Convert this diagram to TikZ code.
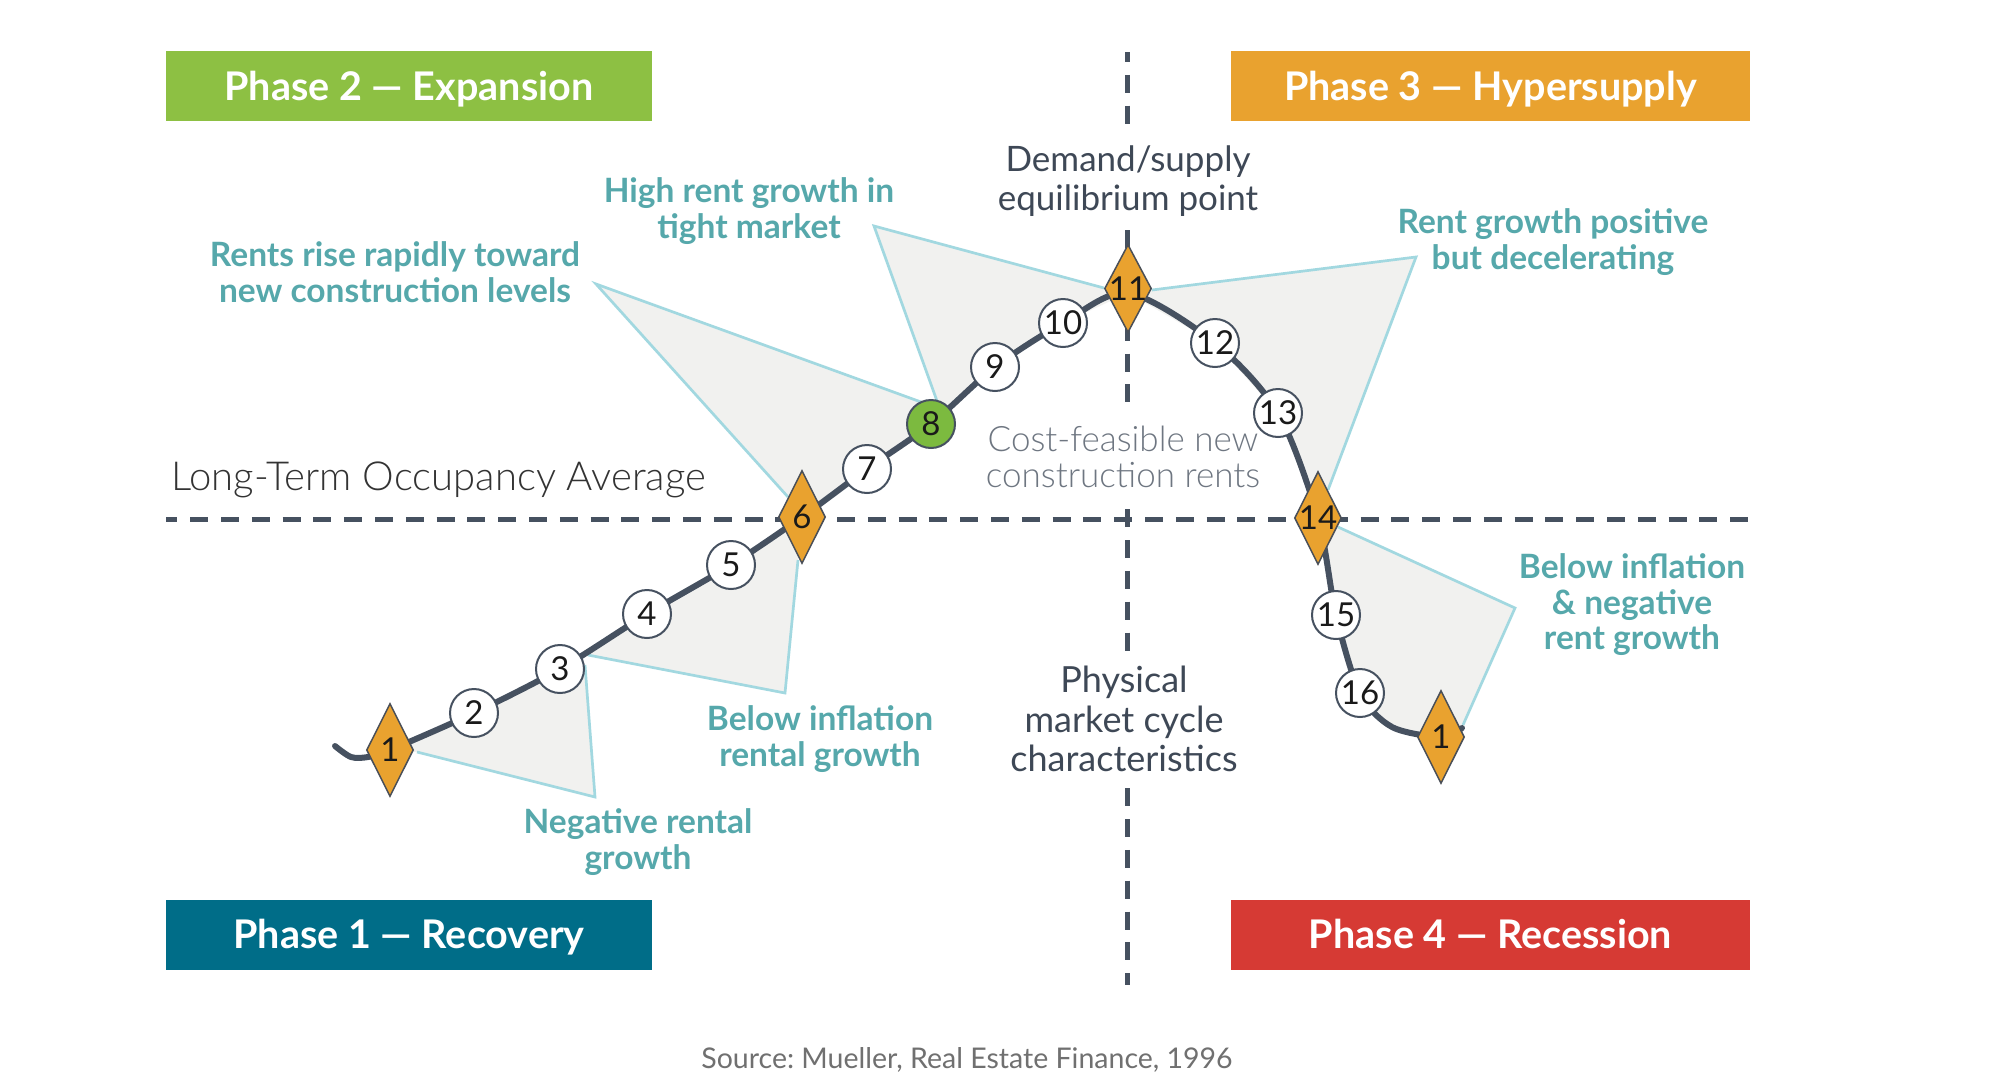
\documentclass[tikz,border=0pt]{standalone}
\usepackage{fontspec}
\setmainfont{Lato}
\IfFontExistsTF{Lato Light}{\newfontfamily\latolight{Lato Light}}{\newfontfamily\latolight{Lato}}
\usetikzlibrary{shapes.geometric}
\definecolor{phgreen}{HTML}{8DC043}
\definecolor{phorange}{HTML}{E9A22F}
\definecolor{phteal}{HTML}{006D88}
\definecolor{phred}{HTML}{D63A34}
\definecolor{tealtxt}{HTML}{56A8AB}
\definecolor{triblue}{HTML}{A2D8E0}
\definecolor{trigray}{HTML}{F1F1EF}
\definecolor{slate}{HTML}{465160}
\definecolor{darktxt}{HTML}{3E4856}
\definecolor{lighttxt}{HTML}{6E7681}
\definecolor{srcgray}{HTML}{707070}
\definecolor{dorange}{HTML}{E9A22F}
\definecolor{diaedge}{HTML}{4A4F57}
\definecolor{numblack}{HTML}{1A1A1A}
\definecolor{ngreen}{HTML}{7CBA3F}
\frenchspacing
\begin{document}
\begin{tikzpicture}[x=1bp,y=-1bp,
  phasebox/.style={rectangle, inner sep=0pt, text=white, minimum width=486bp, minimum height=70bp,
    text height=28bp, text depth=0bp, font=\bfseries\fontsize{39.5bp}{47bp}\selectfont},
  callout/.style={inner sep=0pt, align=center, text=tealtxt, font=\bfseries\fontsize{33.5bp}{35.5bp}\selectfont},
  numtext/.style={inner sep=0pt, text=numblack, font=\fontsize{33bp}{36bp}\selectfont},
  circnode/.style={circle, draw=slate, line width=2bp, fill=white, minimum size=48bp, inner sep=0pt, numtext},
  dianode/.style={diamond, draw=diaedge, line width=1.5bp, fill=dorange, minimum width=47bp, minimum height=93bp,
    inner sep=0pt, label={[numtext]center:#1}},
  trifill/.style={fill=trigray},
  triline/.style={draw=triblue, line width=2.7bp, line join=miter},
  cycleline/.style={draw=slate, line width=6bp, line cap=round},
  dashline/.style={draw=slate, line width=5bp, dash pattern=on 18bp off 12.8bp}
]
\useasboundingbox (0,0) rectangle (1999,1081);
\fill[white] (0,0) rectangle (1999,1081);

% curve points
\coordinate (p1) at (390,750);
\coordinate (p2) at (474,713);
\coordinate (p3) at (560,669);
\coordinate (p4) at (647,614);
\coordinate (p5) at (731,565);
\coordinate (p6) at (802,517);
\coordinate (p7) at (867,469);
\coordinate (p8) at (931,424);
\coordinate (p9) at (995,367);
\coordinate (p10) at (1063,323);
\coordinate (p11) at (1128,293);
\coordinate (p12) at (1215,343);
\coordinate (p13) at (1278,413);
\coordinate (p14) at (1318,518);
\coordinate (p15) at (1336,615);
\coordinate (p16) at (1360,693);
\coordinate (q1) at (1392,727);
\coordinate (p1r) at (1441,737);
\coordinate (d11) at (1128,288.5);

% callout apexes
\coordinate (t1) at (596,284);
\coordinate (t2) at (874,226);
\coordinate (t3) at (1416,257);
\coordinate (t4) at (595,797);
\coordinate (t5) at (785,693);
\coordinate (t6) at (1515,608);

% triangle fills
\fill[trifill] (t1) -- (921,402) -- (p8) -- (p7) -- (p6) -- (788,497) -- cycle;
\fill[trifill] (t2) -- (937,401) -- (p8) -- (p9) -- (p10) -- (p11) -- (1104,288) -- cycle;
\fill[trifill] (t3) -- (1328,490) -- (p14) -- (p13) -- (p12) -- (p11) -- (1152,290) -- cycle;
\fill[trifill] (1338,527) -- (t6) -- (1463,725) -- (p1r) -- (q1) -- (p16) -- (p15) -- (p14) -- cycle;
\fill[trifill] (p1) -- (417,752) -- (t4) -- (585,665) -- (p3) -- (p2) -- cycle;
\fill[trifill] (p3) -- (588,655) -- (t5) -- (798,560) -- (p6) -- (p5) -- (p4) -- cycle;

% triangle outlines
\draw[triline] (921,402) -- (t1) -- (788,497);
\draw[triline] (937,401) -- (t2) -- (1104,288);
\draw[triline] (1152,290) -- (t3) -- (1328,490);
\draw[triline] (1338,527) -- (t6) -- (1463,725);
\draw[triline] (417,752) -- (t4) -- (585,665);
\draw[triline] (588,655) -- (t5) -- (798,560);

% dashed axes
\draw[dashline, dash phase=6.6bp] (166,519) -- (1749,519);
\draw[dashline, dash phase=8bp] (1127.7,52) -- (1127.7,124);
\draw[dashline] (1127.7,230.3) -- (1127.7,403.3);
\draw[dashline] (1127.7,509.3) -- (1127.7,651.3);
\draw[dashline] (1127.7,788.3) -- (1127.7,985);

% cycle curve
\draw[cycleline] plot[smooth, tension=0.5] coordinates {(335,746) (351,757) (368,757) (p1) (p2) (p3) (p4) (p5) (p6) (p7) (p8) (p9) (p10) (p11) (p12) (p13) (p14) (p15) (p16) (q1) (p1r) (1462,728)};

% nodes
\node[dianode=1] (n1) at (p1) {};
\node[circnode] (n2) at (p2) {2};
\node[circnode] (n3) at (p3) {3};
\node[circnode] (n4) at (p4) {4};
\node[circnode] (n5) at (p5) {5};
\node[dianode=6] (n6) at (p6) {};
\node[circnode] (n7) at (p7) {7};
\node[circnode, fill=ngreen] (n8) at (p8) {8};
\node[circnode] (n9) at (p9) {9};
\node[circnode] (n10) at (p10) {10};
\node[dianode=11, minimum height=88bp] (n11) at (d11) {};
\node[circnode] (n12) at (p12) {12};
\node[circnode] (n13) at (p13) {13};
\node[dianode=14] (n14) at (p14) {};
\node[circnode] (n15) at (p15) {15};
\node[circnode] (n16) at (p16) {16};
\node[dianode=1] (n1r) at (p1r) {};

% phase boxes
\node[phasebox, fill=phgreen] (ph2) at (409,86) {Phase 2 — Expansion};
\node[phasebox, fill=phorange, minimum width=519bp] (ph3) at (1490.5,86) {Phase 3 — Hypersupply};
\node[phasebox, fill=phteal] (ph1) at (409,934.5) {Phase 1 — Recovery};
\node[phasebox, fill=phred, minimum width=519bp] (ph4) at (1490.5,934.5) {Phase 4 — Recession};

% callout labels
\node[callout] (lab1) at (395,272) {Rents rise rapidly toward\\new construction levels};
\node[callout] (lab2) at (749,211) {High rent growth in\\tight market};
\node[callout] (lab3) at (1553,242) {Rent growth positive\\but decelerating};
\node[callout] (lab4) at (820,739) {Below inflation\\rental growth};
\node[callout] (lab5) at (638,842) {Negative rental\\growth};
\node[callout] (lab6) at (1632,605) {Below inflation\\\& negative\\rent growth};

% other texts
\node[inner sep=0pt, align=center, text=darktxt, font=\fontsize{35bp}{38.5bp}\selectfont] (eq) at (1128,181) {Demand/supply\\equilibrium point};
\node[inner sep=0pt, align=center, text=lighttxt, font=\latolight\fontsize{35bp}{36bp}\selectfont] (cf) at (1123,457) {Cost-feasible new\\construction rents};
\node[inner sep=0pt, align=center, text=darktxt, font=\fontsize{36bp}{39.5bp}\selectfont] (phys) at (1124,719) {Physical\\market cycle\\characteristics};
\node[inner sep=0pt, anchor=base west, text=black!80, font=\latolight\fontsize{40bp}{44bp}\selectfont] (lto) at (171,490) {Long-Term Occupancy Average};
\node[inner sep=0pt, text=srcgray, font=\fontsize{28.5bp}{32bp}\selectfont] (src) at (967,1060) {Source: Mueller, Real Estate Finance, 1996};
\end{tikzpicture}
\end{document}
